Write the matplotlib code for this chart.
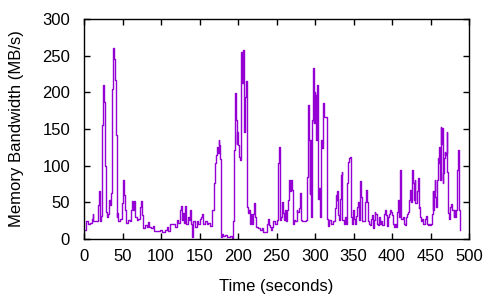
import matplotlib
matplotlib.use("Agg")
from matplotlib import pyplot as plt

plt.rcParams['font.family'] = ['Liberation Sans', 'DejaVu Sans']

# time (s) and memory bandwidth (MB/s)
time = [0, 1.5, 3.1, 5.1, 8.2, 10.2, 11.3, 12.3, 16.4, 18.4, 19.4, 20.5, 22,
        23.5, 25, 25.6, 27.4, 28.1, 29.7, 31.7, 32.7, 33.8, 34.8, 36.3, 37.9,
        38.9, 40.2, 41.5, 42.5, 43, 44.5, 46.8, 49.7, 50.6, 52, 53.2, 54.2,
        57.3, 59.3, 61, 62.4, 64, 65.5, 66.5, 68.5, 70.6, 72.6, 74.5, 75.7,
        76.7, 78.8, 81.3, 82.9, 84.4, 86.5, 89, 90.4, 94.1, 98.2, 100.9, 105.4,
        107.4, 109.5, 111.5, 115.6, 118.2, 120.3, 122.5, 124.8, 125.8, 126.9,
        128.9, 129.9, 131.6, 133, 134.5, 136.1, 137.6, 138.9, 140.7, 141.9,
        144.2, 146.3, 148.3, 150.4, 151.9, 153.5, 154.9, 157, 159.3, 161.6,
        163.7, 165.7, 166.7, 168.8, 169.8, 171.4, 172.3, 173.5, 174.9, 175.6,
        176.6, 177.4, 179, 180.9, 183.1, 185.2, 189.3, 192.3, 193.9, 195.2,
        196.4, 197.3, 198.2, 199.1, 200.3, 201.5, 202.6, 203.4, 204.3, 205.1,
        205.9, 206.9, 207.7, 208.6, 209.4, 210.3, 211.2, 212.1, 213.3, 214.6,
        215.4, 216.9, 217.9, 219.8, 221, 222.4, 224, 226.1, 228.5, 230.7,
        232.8, 235, 237.1, 238.4, 239.7, 241.4, 242.8, 244.1, 245.5, 248,
        250.1, 251.5, 252.3, 253.1, 254, 254.7, 255.8, 257.1, 258.3, 259.6,
        260.9, 262.2, 263.5, 264.9, 266, 267.4, 268.7, 270.1, 271.3, 273.1,
        274.2, 276, 277.2, 278.7, 280, 281.3, 283, 287, 288.7, 289.5, 290.3,
        291.3, 292.1, 293, 293.8, 294.6, 295.5, 296.5, 297.3, 298.2, 299,
        299.8, 300.8, 301.6, 302.5, 303.3, 304.2, 305.5, 306.4, 307.3, 308.6,
        309.9, 311, 312.3, 314.5, 315.7, 317, 318.7, 320.8, 323, 325.8, 327.2,
        328.1, 328.9, 330.2, 331.5, 332.8, 333.5, 334.5, 335.5, 337.6, 338.8,
        340.7, 341.9, 343.2, 344.4, 345.8, 346.7, 347.8, 348.8, 350.1, 351.4,
        352.7, 354, 355.2, 356.6, 357.8, 358.8, 360.1, 361.3, 362.7, 364.4,
        365.7, 367, 368.3, 369.6, 370.8, 372.2, 373.4, 374.7, 376.1, 377.4,
        378.5, 379.9, 381.3, 383, 384.3, 385.7, 387.3, 389.5, 390.8, 392.1,
        393.3, 394.7, 395.9, 397.2, 398.6, 399.9, 401.1, 402, 403.3, 404.6,
        405.9, 406.7, 408.1, 409.4, 410.2, 411.1, 412.3, 413.7, 415, 416.4,
        417.6, 418.9, 420.2, 421.5, 422.4, 423.2, 424.1, 425.4, 426.6, 427.6,
        428.8, 429.7, 430.5, 431.9, 433.2, 434.5, 435.4, 436.2, 437.5, 438.8,
        440.1, 441.4, 442.7, 444, 445.3, 446.6, 447.9, 449.2, 450.5, 451.8,
        452.7, 453.5, 454.3, 455.2, 456.1, 457, 457.9, 458.7, 459.5, 460.5,
        461.3, 462.2, 463, 463.9, 464.8, 465.7, 466.5, 467.4, 468.2, 469.1,
        470, 470.9, 471.7, 472.6, 473.4, 474.8, 476, 477.3, 478.6, 479.9,
        480.8, 481.6, 483, 483.8, 484.7, 485.5, 486.4, 487.3, 488.2]
bandwidth = [13, 13, 25, 21, 22, 28, 34, 25, 25, 46, 65, 25, 31,
             155, 210, 187, 100, 37, 30, 34, 53, 46, 63, 205, 260,
             245, 217, 142, 30, 35, 25, 28, 49, 80, 60, 40, 22,
             26, 25, 40, 52, 40, 52, 30, 26, 28, 44, 52, 33,
             15, 19, 17, 23, 16, 15, 18, 11, 11, 12, 10, 12,
             17, 11, 20, 21, 16, 26, 22, 39, 45, 26,
             35, 22, 45, 21, 30, 26, 40, 21, 3, 24,
             17, 24, 21, 27, 30, 34, 20, 24, 21, 22,
             18, 26, 40, 76, 103, 115, 126, 117, 135, 128,
             109, 3, 7, 4, 5, 3, 4, 1, 25, 121,
             199, 162, 130, 146, 128, 112, 108, 185, 255, 212,
             235, 258, 146, 158, 194, 215, 126, 44, 35, 40,
             21, 34, 21, 34, 49, 30, 16, 15, 12, 15,
             10, 9, 21, 28, 19, 16, 12, 17, 25, 21,
             26, 54, 103, 126, 117, 26, 30, 51, 35, 26,
             40, 24, 40, 53, 80, 65, 80, 67, 21, 26,
             24, 40, 37, 42, 63, 26, 25, 25, 26, 85, 158,
             183, 135, 62, 135, 30, 140, 162, 233, 158, 201,
             158, 196, 135, 210, 58, 55, 69, 30, 135, 124,
             176, 186, 167, 167, 28, 18, 26, 21, 25, 43, 60,
             53, 65, 33, 26, 55, 87, 91, 26, 21, 30,
             21, 76, 105, 110, 112, 30, 21, 40, 28, 21,
             32, 44, 50, 26, 37, 79, 58, 25, 24, 50,
             67, 50, 25, 21, 19, 28, 33, 15, 26, 37,
             34, 21, 19, 30, 21, 25, 19, 34, 40, 33,
             18, 30, 34, 40, 37, 33, 21, 16, 21, 16,
             27, 37, 53, 30, 94, 58, 28, 30, 21, 19,
             30, 34, 37, 40, 53, 67, 51, 74, 94, 76,
             53, 80, 49, 65, 83, 42, 44, 30, 24, 27,
             21, 20, 28, 31, 21, 19, 21, 19, 21, 34,
             65, 40, 65, 80, 58, 44, 46, 80, 110, 103,
             126, 80, 153, 130, 151, 76, 90, 110, 119, 115,
             117, 146, 92, 35, 28, 44, 48, 40, 40, 30,
             40, 30, 40, 55, 94, 121, 92, 40, 12]

fig = plt.figure(figsize=(5, 3), dpi=100)
ax = fig.add_axes([0.168, 0.203, 0.77, 0.734])
ax.plot(time, bandwidth, color='#9400d3', lw=1, drawstyle='steps-post')

ax.set_xlim(0, 500)
ax.set_ylim(0, 300)
ax.set_xticks(range(0, 501, 50))
ax.set_yticks(range(0, 301, 50))
ax.tick_params(direction='in', top=True, right=True, length=4, width=1,
               labelsize=12, pad=7)
ax.tick_params(axis='y', pad=10)
for s in ax.spines.values():
    s.set_linewidth(1)

ax.set_xlabel("Time (seconds)", fontsize=12, labelpad=11)
ax.set_ylabel("Memory Bandwidth (MB/s)", fontsize=12, labelpad=13)

fig.savefig("out.png", dpi=100)
